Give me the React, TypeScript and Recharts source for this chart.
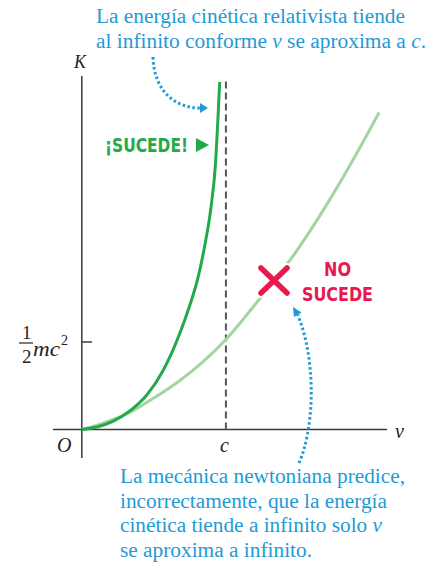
import { ComposedChart, Line, ReferenceLine, XAxis, YAxis } from 'recharts'

// velocidad en unidades de c, energía cinética en unidades de mc^2
const relVelocity = [0, 0.104, 0.215, 0.333, 0.451, 0.5625, 0.681, 0.75, 0.806, 0.854, 0.896, 0.927, 0.951, 0.957]
const relEnergy = [0, 0.014, 0.046, 0.106, 0.197, 0.334, 0.551, 0.711, 0.866, 1.054, 1.266, 1.511, 1.883, 1.986]

const newtVelocity = [0, 0.102, 0.215, 0.333, 0.449, 0.681, 0.84, 1.0, 1.222, 1.456, 1.688, 1.917, 2.063]
const newtEnergy = [0, 0.023, 0.057, 0.097, 0.154, 0.28, 0.386, 0.514, 0.734, 0.98, 1.269, 1.591, 1.811]

const speedOfLight = 1
const halfRestEnergy = 0.5

const relData = relVelocity.map((v, i) => ({ v, k: relEnergy[i] }))
const newtData = newtVelocity.map((v, i) => ({ v, k: newtEnergy[i] }))

const blue = '#1f9ad6'
const green = '#22aa48'
const lightGreen = '#a2d5a3'
const red = '#e8194d'
const axisColor = '#3a3a3a'
const serif = '"Liberation Serif", "Times New Roman", serif'
const condensed = '"DejaVu Sans Condensed", "Liberation Sans Narrow", "DejaVu Sans", sans-serif'

function Annotations() {
  return (
    <svg
      width={443}
      height={566}
      style={{ position: 'absolute', left: 0, top: 0, pointerEvents: 'none' }}
    >
      <g fontFamily={serif} fontSize={20} fill={blue}>
        <text x={96} y={23} textLength={309} lengthAdjust="spacingAndGlyphs">
          La energía cinética relativista tiende
        </text>
        <text x={96} y={48} textLength={330} lengthAdjust="spacingAndGlyphs">
          al infinito conforme <tspan fontStyle="italic">v</tspan> se aproxima a{' '}
          <tspan fontStyle="italic">c</tspan>.
        </text>
        <text x={120} y={483} textLength={285} lengthAdjust="spacingAndGlyphs">
          La mecánica newtoniana predice,
        </text>
        <text x={120} y={508} textLength={267} lengthAdjust="spacingAndGlyphs">
          incorrectamente, que la energía
        </text>
        <text x={120} y={532} textLength={262} lengthAdjust="spacingAndGlyphs">
          cinética tiende a infinito solo <tspan fontStyle="italic">v</tspan>
        </text>
        <text x={120} y={557} textLength={192} lengthAdjust="spacingAndGlyphs">
          se aproxima a infinito.
        </text>
      </g>

      <g fontFamily={serif} fill="#222" fontStyle="italic">
        <text x={74} y={68} fontSize={18}>K</text>
        <text x={57} y={452} fontSize={20}>O</text>
        <text x={220} y={452} fontSize={20}>c</text>
        <text x={395} y={438} fontSize={20}>v</text>
        <text x={33} y={356} fontSize={21} textLength={27} lengthAdjust="spacingAndGlyphs">
          mc
        </text>
        <text x={61} y={345} fontSize={14} fontStyle="normal">2</text>
      </g>
      <g fontFamily={serif} fill="#222" fontSize={19}>
        <text x={22} y={339}>1</text>
        <text x={22} y={363}>2</text>
      </g>
      <line x1={19} x2={33} y1={343} y2={343} stroke="#222" strokeWidth={1.2} />

      <text
        x={105}
        y={152}
        fontFamily={condensed}
        fontWeight="bold"
        fontSize={20}
        fill={green}
        textLength={83}
        lengthAdjust="spacingAndGlyphs"
      >
        ¡SUCEDE!
      </text>
      <polygon points="196,138 196,152 209,145" fill={green} />

      <g stroke="#fff" strokeWidth={10} strokeLinecap="round">
        <line x1={261} y1={268} x2={287} y2={293} />
        <line x1={287} y1={268} x2={261} y2={293} />
      </g>
      <g stroke={red} strokeWidth={5.5} strokeLinecap="round">
        <line x1={261} y1={268} x2={287} y2={293} />
        <line x1={287} y1={268} x2={261} y2={293} />
      </g>
      <g fontFamily={condensed} fontWeight="bold" fontSize={20} fill={red}>
        <text x={324} y={276} textLength={27} lengthAdjust="spacingAndGlyphs">NO</text>
        <text x={302} y={301} textLength={71} lengthAdjust="spacingAndGlyphs">SUCEDE</text>
      </g>

      <g fill="none" stroke={blue} strokeWidth={3} strokeDasharray="2.5 2.5">
        <path d="M153,57 C154,92 176,108 200,108" />
        <path d="M299,463 C313,432 318,365 297.7,314.7" />
      </g>
      <polygon points="200,103 208,108 200,113" fill={blue} />
      <polygon points="293,307 301.5,312.4 293.9,317" fill={blue} />
    </svg>
  )
}

export default function App() {
  return (
    <div style={{ position: 'absolute', left: 0, top: 0, width: 443, height: 566, background: '#fff' }}>
      <ComposedChart
        width={443}
        height={566}
        margin={{ top: 76, right: 56, bottom: 108, left: 53 }}
      >
        <XAxis dataKey="v" type="number" domain={[-0.2, 2.118]} hide allowDataOverflow />
        <YAxis dataKey="k" type="number" domain={[-0.163, 2.02]} hide allowDataOverflow />
        <ReferenceLine x={0} stroke={axisColor} strokeWidth={1.5} />
        <ReferenceLine y={0} stroke={axisColor} strokeWidth={1.5} />
        <ReferenceLine
          segment={[
            { x: 0, y: halfRestEnergy },
            { x: 0.07, y: halfRestEnergy },
          ]}
          stroke={axisColor}
          strokeWidth={1.5}
        />
        <ReferenceLine
          segment={[
            { x: speedOfLight, y: 0 },
            { x: speedOfLight, y: 1.99 },
          ]}
          stroke="#555"
          strokeWidth={2}
          strokeDasharray="7 4"
        />
        <Line
          data={newtData}
          dataKey="k"
          type="monotone"
          stroke={lightGreen}
          strokeWidth={3}
          dot={false}
          isAnimationActive={false}
        />
        <Line
          data={relData}
          dataKey="k"
          type="monotone"
          stroke={green}
          strokeWidth={3}
          dot={false}
          isAnimationActive={false}
        />
      </ComposedChart>
      <Annotations />
    </div>
  )
}
